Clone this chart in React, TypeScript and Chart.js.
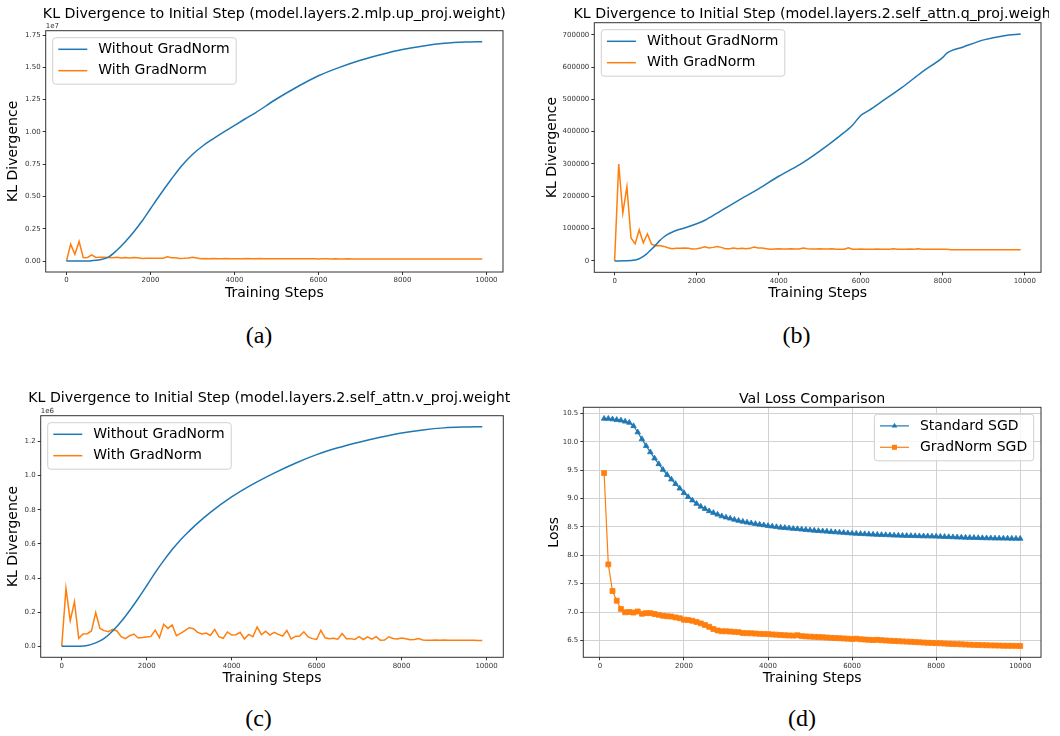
import React, { useEffect, useRef } from "react";
import { Chart, registerables } from "chart.js";

Chart.register(...registerables);

const BLUE = "#1f77b4";
const ORANGE = "#ff7f0e";
const FONT = "'DejaVu Sans', sans-serif";

// ---------- categories / ticks ----------
const X_TICKS = [0, 2000, 4000, 6000, 8000, 10000];
const A_Y_TICKS = [0, 0.25, 0.5, 0.75, 1.0, 1.25, 1.5, 1.75];
const B_Y_TICKS = [0, 100000, 200000, 300000, 400000, 500000, 600000, 700000];
const C_Y_TICKS = [0, 0.2, 0.4, 0.6, 0.8, 1.0, 1.2];
const D_Y_TICKS = [6.5, 7.0, 7.5, 8.0, 8.5, 9.0, 9.5, 10.0, 10.5];

const KL_STEPS = [
  0, 100, 200, 300, 400, 500, 600, 700, 800, 900,
  1000, 1100, 1200, 1300, 1400, 1500, 1600, 1700, 1800, 1900,
  2000, 2100, 2200, 2300, 2400, 2500, 2600, 2700, 2800, 2900,
  3000, 3100, 3200, 3300, 3400, 3500, 3600, 3700, 3800, 3900,
  4000, 4100, 4200, 4300, 4400, 4500, 4600, 4700, 4800, 4900,
  5000, 5100, 5200, 5300, 5400, 5500, 5600, 5700, 5800, 5900,
  6000, 6100, 6200, 6300, 6400, 6500, 6600, 6700, 6800, 6900,
  7000, 7100, 7200, 7300, 7400, 7500, 7600, 7700, 7800, 7900,
  8000, 8100, 8200, 8300, 8400, 8500, 8600, 8700, 8800, 8900,
  9000, 9100, 9200, 9300, 9400, 9500, 9600, 9700, 9800, 9900,
];

const VAL_STEPS = [
  100, 200, 300, 400, 500, 600, 700, 800, 900, 1000,
  1100, 1200, 1300, 1400, 1500, 1600, 1700, 1800, 1900, 2000,
  2100, 2200, 2300, 2400, 2500, 2600, 2700, 2800, 2900, 3000,
  3100, 3200, 3300, 3400, 3500, 3600, 3700, 3800, 3900, 4000,
  4100, 4200, 4300, 4400, 4500, 4600, 4700, 4800, 4900, 5000,
  5100, 5200, 5300, 5400, 5500, 5600, 5700, 5800, 5900, 6000,
  6100, 6200, 6300, 6400, 6500, 6600, 6700, 6800, 6900, 7000,
  7100, 7200, 7300, 7400, 7500, 7600, 7700, 7800, 7900, 8000,
  8100, 8200, 8300, 8400, 8500, 8600, 8700, 8800, 8900, 9000,
  9100, 9200, 9300, 9400, 9500, 9600, 9700, 9800, 9900, 10000,
];

// ---------- (a) mlp.up_proj, values in units of 1e7 ----------
const A_BLUE_STEPS = [0, 400, 600, 800, 1000, 1200, 1400, 1600, 1800, 2000, 2200, 2500, 2750, 3000, 3250, 3500, 3750, 4000, 4250, 4500, 5000, 5500, 6000, 6500, 7000, 7500, 8000, 8500, 9000, 9500, 9900];
const A_BLUE = [0, 0.001, 0.003, 0.01, 0.03, 0.084, 0.15, 0.225, 0.31, 0.405, 0.5, 0.635, 0.74, 0.825, 0.893, 0.948, 1.0, 1.05, 1.1, 1.148, 1.255, 1.35, 1.435, 1.5, 1.555, 1.6, 1.638, 1.666, 1.686, 1.696, 1.699];
const A_ORANGE = [
  0, 0.131, 0.052, 0.151, 0.025, 0.028, 0.048, 0.028, 0.03, 0.03,
  0.028, 0.026, 0.029, 0.024, 0.027, 0.023, 0.027, 0.026, 0.02, 0.021,
  0.021, 0.022, 0.021, 0.022, 0.033, 0.025, 0.026, 0.02, 0.021, 0.024,
  0.03, 0.024, 0.018, 0.019, 0.018, 0.019, 0.018, 0.018, 0.019, 0.018,
  0.017, 0.018, 0.018, 0.019, 0.018, 0.018, 0.019, 0.018, 0.017, 0.018,
  0.017, 0.018, 0.017, 0.017, 0.018, 0.017, 0.018, 0.017, 0.017, 0.017,
  0.016, 0.017, 0.017, 0.016, 0.017, 0.016, 0.016, 0.017, 0.016, 0.016,
  0.016, 0.016, 0.016, 0.016, 0.016, 0.015, 0.016, 0.016, 0.015, 0.015,
  0.015, 0.015, 0.015, 0.015, 0.015, 0.015, 0.015, 0.015, 0.015, 0.015,
  0.015, 0.015, 0.015, 0.015, 0.015, 0.015, 0.015, 0.015, 0.015, 0.015,
];

// ---------- (b) self_attn.q_proj, values in thousands ----------
const B_BLUE_STEPS = [0, 300, 500, 600, 700, 800, 900, 1000, 1100, 1200, 1300, 1400, 1500, 1700, 2000, 2200, 2500, 3000, 3500, 4000, 4500, 5000, 5500, 5800, 6000, 6200, 6500, 7000, 7500, 8000, 8100, 8500, 9000, 9500, 9900];
const B_BLUE_K = [0, 0.5, 3, 7, 14, 24, 36, 49, 63, 74, 83, 89, 94, 102, 115, 126, 148, 186, 222, 262, 297, 340, 388, 420, 450, 466, 492, 536, 585, 630, 643, 662, 684, 697, 702];
const B_ORANGE_K = [
  0, 300, 148, 230, 71, 53, 96, 56, 84, 52,
  47, 48, 45, 41, 38, 39, 39, 40, 39, 37,
  38, 40, 44, 40, 42, 45, 42, 38, 38, 40,
  38, 39, 38, 39, 43, 40, 40, 38, 36, 37,
  38, 37, 37, 38, 37, 37, 40, 38, 37, 37,
  38, 37, 37, 38, 36, 36, 36, 41, 36, 36,
  37, 36, 36, 36, 37, 36, 36, 36, 38, 36,
  36, 36, 37, 36, 38, 36, 36, 36, 36, 36,
  36, 36, 35, 35, 35, 35, 35, 35, 35, 35,
  35, 35, 35, 35, 35, 35, 35, 35, 35, 35,
];

// ---------- (c) self_attn.v_proj, values in units of 1e6 ----------
const C_BLUE_STEPS = [0, 400, 600, 800, 1000, 1200, 1400, 1600, 1800, 2000, 2200, 2400, 2600, 2800, 3000, 3200, 3500, 4000, 4500, 5000, 5500, 6000, 6500, 7000, 7500, 8000, 8500, 9000, 9500, 9900];
const C_BLUE = [0, 0.001, 0.005, 0.02, 0.047, 0.09, 0.145, 0.21, 0.28, 0.355, 0.432, 0.502, 0.567, 0.625, 0.675, 0.722, 0.785, 0.875, 0.95, 1.015, 1.073, 1.123, 1.163, 1.196, 1.225, 1.25, 1.268, 1.28, 1.285, 1.287];
const C_ORANGE = [
  0, 0.339, 0.15, 0.261, 0.047, 0.072, 0.074, 0.09, 0.197, 0.105,
  0.092, 0.086, 0.099, 0.09, 0.056, 0.045, 0.062, 0.072, 0.049, 0.051,
  0.055, 0.058, 0.095, 0.051, 0.129, 0.105, 0.125, 0.062, 0.076, 0.092,
  0.109, 0.103, 0.082, 0.072, 0.078, 0.064, 0.099, 0.056, 0.047, 0.084,
  0.066, 0.068, 0.082, 0.043, 0.07, 0.056, 0.113, 0.068, 0.088, 0.066,
  0.082, 0.07, 0.06, 0.093, 0.043, 0.058, 0.06, 0.085, 0.055, 0.045,
  0.04, 0.094, 0.05, 0.045, 0.047, 0.042, 0.075, 0.045, 0.045, 0.04,
  0.057, 0.04, 0.056, 0.042, 0.057, 0.036, 0.037, 0.056, 0.046, 0.043,
  0.048, 0.044, 0.038, 0.04, 0.045, 0.037, 0.036, 0.036, 0.037, 0.036,
  0.037, 0.036, 0.036, 0.035, 0.036, 0.035, 0.035, 0.035, 0.034, 0.034,
];

// ---------- (d) validation loss ----------
const D_STANDARD = [
  10.41, 10.41, 10.40, 10.39, 10.38, 10.36, 10.34, 10.28, 10.17, 10.05,
  9.93, 9.82, 9.71, 9.61, 9.51, 9.42, 9.34, 9.26, 9.18, 9.10,
  9.03, 8.97, 8.91, 8.86, 8.82, 8.78, 8.75, 8.72, 8.69, 8.67,
  8.65, 8.63, 8.61, 8.595, 8.58, 8.567, 8.555, 8.543, 8.532, 8.52,
  8.51, 8.50, 8.49, 8.485, 8.477, 8.47, 8.465, 8.457, 8.45, 8.443,
  8.437, 8.431, 8.425, 8.42, 8.414, 8.408, 8.403, 8.398, 8.392, 8.387,
  8.383, 8.379, 8.375, 8.371, 8.367, 8.364, 8.361, 8.358, 8.355, 8.352,
  8.35, 8.347, 8.345, 8.343, 8.341, 8.339, 8.337, 8.336, 8.335, 8.333,
  8.33, 8.327, 8.324, 8.321, 8.318, 8.315, 8.313, 8.311, 8.309, 8.307,
  8.305, 8.303, 8.302, 8.3, 8.299, 8.298, 8.297, 8.296, 8.295, 8.294,
];
const D_GRADNORM = [
  9.45, 7.84, 7.37, 7.2, 7.055, 6.995, 7.0, 6.99, 7.01, 6.97,
  6.98, 6.98, 6.965, 6.95, 6.935, 6.925, 6.92, 6.905, 6.89, 6.865,
  6.86, 6.845, 6.825, 6.8, 6.77, 6.74, 6.7, 6.675, 6.66, 6.66,
  6.655, 6.65, 6.645, 6.63, 6.627, 6.625, 6.62, 6.615, 6.612, 6.61,
  6.605, 6.6, 6.595, 6.59, 6.587, 6.584, 6.59, 6.575, 6.57, 6.566,
  6.562, 6.558, 6.555, 6.55, 6.545, 6.542, 6.538, 6.534, 6.53, 6.526,
  6.53, 6.52, 6.515, 6.51, 6.507, 6.51, 6.503, 6.498, 6.494, 6.49,
  6.486, 6.482, 6.478, 6.475, 6.47, 6.466, 6.462, 6.458, 6.455, 6.452,
  6.448, 6.444, 6.44, 6.437, 6.434, 6.43, 6.427, 6.424, 6.421, 6.418,
  6.416, 6.414, 6.412, 6.41, 6.408, 6.406, 6.405, 6.404, 6.403, 6.402,
];

const pts = (xs: number[], ys: number[], k = 1) => xs.map((x, i) => ({ x, y: ys[i] * k }));

type LegendEntry = { label: string; color: string; marker?: "triangle" | "rect"; lw: number };
type PanelCfg = {
  left: number; top: number; width: number; height: number;
  area: { l: number; r: number; t: number; b: number };
  title: string; titleY: number;
  yLabel: string; yLabelPad: number; xLabelPad: number;
  xRange: [number, number]; yRange: [number, number];
  yTicks: number[]; yFmt: (v: number) => string;
  offsetText?: string;
  grid?: boolean;
  legend: LegendEntry[]; legendRight?: boolean;
  datasets: any[];
};

const lineDs = (label: string, data: any[], color: string, smooth = false) => ({
  label, data, borderColor: color, backgroundColor: color, borderWidth: 1.5,
  pointRadius: 0, fill: false, tension: 0,
  cubicInterpolationMode: smooth ? "monotone" : "default",
});

const PANELS: PanelCfg[] = [
  {
    left: 0, top: 0, width: 530, height: 320,
    area: { l: 45.7, r: 503, t: 30.7, b: 272 },
    title: "KL Divergence to Initial Step (model.layers.2.mlp.up_proj.weight)", titleY: 18,
    yLabel: "KL Divergence", yLabelPad: 5.3, xLabelPad: 18.4,
    xRange: [-495, 10395], yRange: [-0.08495, 1.78395],
    yTicks: A_Y_TICKS, yFmt: (v) => v.toFixed(2), offsetText: "1e7",
    legend: [{ label: "Without GradNorm", color: BLUE, lw: 1.5 }, { label: "With GradNorm", color: ORANGE, lw: 1.5 }],
    datasets: [
      lineDs("Without GradNorm", pts(A_BLUE_STEPS, A_BLUE), BLUE, true),
      lineDs("With GradNorm", pts(KL_STEPS, A_ORANGE), ORANGE),
    ],
  },
  {
    left: 530, top: 0, width: 519, height: 320,
    area: { l: 64.3, r: 511, t: 22.7, b: 272.3 },
    title: "KL Divergence to Initial Step (model.layers.2.self_attn.q_proj.weight)", titleY: 18,
    yLabel: "KL Divergence", yLabelPad: 13.7, xLabelPad: 18.4,
    xRange: [-495, 10395], yRange: [-35100, 737100],
    yTicks: B_Y_TICKS, yFmt: (v) => String(Math.round(v)),
    legend: [{ label: "Without GradNorm", color: BLUE, lw: 1.5 }, { label: "With GradNorm", color: ORANGE, lw: 1.5 }],
    datasets: [
      lineDs("Without GradNorm", pts(B_BLUE_STEPS, B_BLUE_K, 1000), BLUE, true),
      lineDs("With GradNorm", pts(KL_STEPS, B_ORANGE_K, 1000), ORANGE),
    ],
  },
  {
    left: 0, top: 380, width: 510, height: 320,
    area: { l: 40.7, r: 503.3, t: 35.7, b: 277.3 },
    title: "KL Divergence to Initial Step (model.layers.2.self_attn.v_proj.weight)", titleY: 22,
    yLabel: "KL Divergence", yLabelPad: 5.3, xLabelPad: 13.5,
    xRange: [-495, 10395], yRange: [-0.06435, 1.35135],
    yTicks: C_Y_TICKS, yFmt: (v) => v.toFixed(1), offsetText: "1e6",
    legend: [{ label: "Without GradNorm", color: BLUE, lw: 1.5 }, { label: "With GradNorm", color: ORANGE, lw: 1.5 }],
    datasets: [
      lineDs("Without GradNorm", pts(C_BLUE_STEPS, C_BLUE), BLUE, true),
      lineDs("With GradNorm", pts(KL_STEPS, C_ORANGE), ORANGE),
    ],
  },
  {
    left: 530, top: 380, width: 530, height: 320,
    area: { l: 53.3, r: 511, t: 27.3, b: 277.3 },
    title: "Val Loss Comparison", titleY: 22.5,
    yLabel: "Loss", yLabelPad: 15.8, xLabelPad: 13.5,
    xRange: [-395, 10495], yRange: [6.2016, 10.6104],
    yTicks: D_Y_TICKS, yFmt: (v) => v.toFixed(1), grid: true, legendRight: true,
    legend: [
      { label: "Standard SGD", color: BLUE, marker: "triangle", lw: 1.2 },
      { label: "GradNorm SGD", color: ORANGE, marker: "rect", lw: 1.2 },
    ],
    datasets: [
      {
        label: "Standard SGD", data: pts(VAL_STEPS, D_STANDARD), borderColor: BLUE, backgroundColor: BLUE,
        borderWidth: 1.2, pointStyle: "triangle", pointRadius: 3.2, pointBorderWidth: 0.8,
        pointBackgroundColor: BLUE, pointBorderColor: BLUE, fill: false, tension: 0,
      },
      {
        label: "GradNorm SGD", data: pts(VAL_STEPS, D_GRADNORM), borderColor: ORANGE, backgroundColor: ORANGE,
        borderWidth: 1.2, pointStyle: "rect", pointRadius: 3.5, pointBorderWidth: 0.8,
        pointBackgroundColor: ORANGE, pointBorderColor: ORANGE, fill: false, tension: 0,
      },
    ],
  },
];

function drawMarker(ctx: CanvasRenderingContext2D, kind: string, x: number, y: number, color: string) {
  ctx.save();
  ctx.fillStyle = color;
  ctx.beginPath();
  if (kind === "triangle") {
    const r = 3.2;
    for (let k = 0; k < 3; k++) {
      const ang = (k * 2 * Math.PI) / 3;
      const px = x + Math.sin(ang) * r;
      const py = y - Math.cos(ang) * r;
      if (k === 0) ctx.moveTo(px, py); else ctx.lineTo(px, py);
    }
    ctx.closePath();
  } else {
    ctx.rect(x - 2.5, y - 2.5, 5, 5);
  }
  ctx.fill();
  ctx.restore();
}

function makeDecorPlugin(cfg: PanelCfg) {
  return {
    id: "decor",
    afterDraw(chart: any) {
      const ctx: CanvasRenderingContext2D = chart.ctx;
      const a = chart.chartArea;
      ctx.save();
      // frame
      ctx.strokeStyle = "#333";
      ctx.lineWidth = 1;
      ctx.strokeRect(a.left, a.top, a.right - a.left, a.bottom - a.top);
      // title
      ctx.fillStyle = "#000";
      ctx.font = `14.2px ${FONT}`;
      ctx.textAlign = "center";
      ctx.textBaseline = "alphabetic";
      ctx.fillText(cfg.title, (a.left + a.right) / 2, cfg.titleY);
      // offset text
      if (cfg.offsetText) {
        ctx.font = `7px ${FONT}`;
        ctx.fillStyle = "#333";
        ctx.textAlign = "left";
        ctx.fillText(cfg.offsetText, a.left, a.top - 2.5);
      }
      // legend
      ctx.font = `14px ${FONT}`;
      const tw = Math.max(...cfg.legend.map((e) => ctx.measureText(e.label).width));
      const boxW = 5.6 + 29 + 11 + tw + 6.5;
      const boxH = 46.5;
      const bx = cfg.legendRight ? a.right - 7.3 - boxW : a.left + 7;
      const by = a.top + 7;
      const rr = 3;
      ctx.beginPath();
      ctx.moveTo(bx + rr, by);
      ctx.lineTo(bx + boxW - rr, by);
      ctx.arcTo(bx + boxW, by, bx + boxW, by + rr, rr);
      ctx.lineTo(bx + boxW, by + boxH - rr);
      ctx.arcTo(bx + boxW, by + boxH, bx + boxW - rr, by + boxH, rr);
      ctx.lineTo(bx + rr, by + boxH);
      ctx.arcTo(bx, by + boxH, bx, by + boxH - rr, rr);
      ctx.lineTo(bx, by + rr);
      ctx.arcTo(bx, by, bx + rr, by, rr);
      ctx.closePath();
      ctx.fillStyle = "rgba(255,255,255,0.8)";
      ctx.fill();
      ctx.strokeStyle = "#d0d0d0";
      ctx.lineWidth = 1;
      ctx.stroke();
      cfg.legend.forEach((e, i) => {
        const y = by + 11.6 + i * 21.4;
        ctx.strokeStyle = e.color;
        ctx.lineWidth = e.lw;
        ctx.beginPath();
        ctx.moveTo(bx + 5.6, y);
        ctx.lineTo(bx + 34.6, y);
        ctx.stroke();
        if (e.marker) drawMarker(ctx, e.marker, bx + 20.1, y, e.color);
        ctx.fillStyle = "#000";
        ctx.textAlign = "left";
        ctx.textBaseline = "middle";
        ctx.fillText(e.label, bx + 45.6, y);
      });
      ctx.restore();
    },
  };
}

function ChartPanel({ cfg }: { cfg: PanelCfg }) {
  const ref = useRef<HTMLCanvasElement>(null);
  useEffect(() => {
    const canvas = ref.current;
    if (!canvas) return;
    const tickFont = { family: FONT, size: 7 };
    const gridOpts = {
      display: true,
      drawOnChartArea: !!cfg.grid,
      drawTicks: true,
      tickLength: 3,
      tickColor: "#333",
      tickWidth: 1,
      color: "#d2d2d2",
      lineWidth: 1,
    };
    const chart = new Chart(canvas, {
      type: "line",
      data: { datasets: cfg.datasets },
      plugins: [makeDecorPlugin(cfg)],
      options: {
        animation: false,
        responsive: false,
        devicePixelRatio: 1,
        events: [],
        layout: { padding: { left: 0, top: cfg.area.t, right: cfg.width - cfg.area.r, bottom: 0 } },
        plugins: { legend: { display: false }, title: { display: false }, tooltip: { enabled: false } },
        scales: {
          x: {
            type: "linear",
            min: cfg.xRange[0],
            max: cfg.xRange[1],
            afterBuildTicks: (s: any) => { s.ticks = X_TICKS.map((v) => ({ value: v })); },
            afterFit: (s: any) => { s.height = cfg.height - cfg.area.b; },
            ticks: { font: tickFont, color: "#333", padding: 1.3, autoSkip: false, maxRotation: 0, callback: (v: any) => String(v) },
            grid: gridOpts,
            border: { display: false },
            title: { display: true, text: "Training Steps", font: { family: FONT, size: 14 }, color: "#000", padding: { top: 0, bottom: cfg.xLabelPad } },
          },
          y: {
            type: "linear",
            min: cfg.yRange[0],
            max: cfg.yRange[1],
            afterBuildTicks: (s: any) => { s.ticks = cfg.yTicks.map((v) => ({ value: v })); },
            afterFit: (s: any) => { s.width = cfg.area.l; },
            ticks: { font: tickFont, color: "#333", padding: 2, autoSkip: false, callback: (v: any) => cfg.yFmt(Number(v)) },
            grid: gridOpts,
            border: { display: false },
            title: { display: true, text: cfg.yLabel, font: { family: FONT, size: 14 }, color: "#000", padding: { top: cfg.yLabelPad, bottom: 0 } },
          },
        },
      } as any,
    });
    return () => chart.destroy();
  }, [cfg]);
  return (
    <canvas
      ref={ref}
      width={cfg.width}
      height={cfg.height}
      style={{ position: "absolute", left: cfg.left, top: cfg.top, width: cfg.width, height: cfg.height }}
    />
  );
}

const CAPTIONS = [
  { text: "(a)", x: 259, y: 323 },
  { text: "(b)", x: 796.5, y: 323 },
  { text: "(c)", x: 258.5, y: 706 },
  { text: "(d)", x: 802, y: 706 },
];

export default function App() {
  return (
    <div style={{ position: "absolute", left: 0, top: 0, width: 1060, height: 736, background: "#fff", overflow: "hidden" }}>
      {PANELS.map((p, i) => (
        <ChartPanel key={i} cfg={p} />
      ))}
      {CAPTIONS.map((c) => (
        <div
          key={c.text}
          style={{
            position: "absolute", left: c.x, top: c.y, transform: "translateX(-50%)",
            font: "24px 'Liberation Serif', 'Times New Roman', serif", lineHeight: "24px", color: "#000", whiteSpace: "nowrap",
          }}
        >
          {c.text}
        </div>
      ))}
    </div>
  );
}
